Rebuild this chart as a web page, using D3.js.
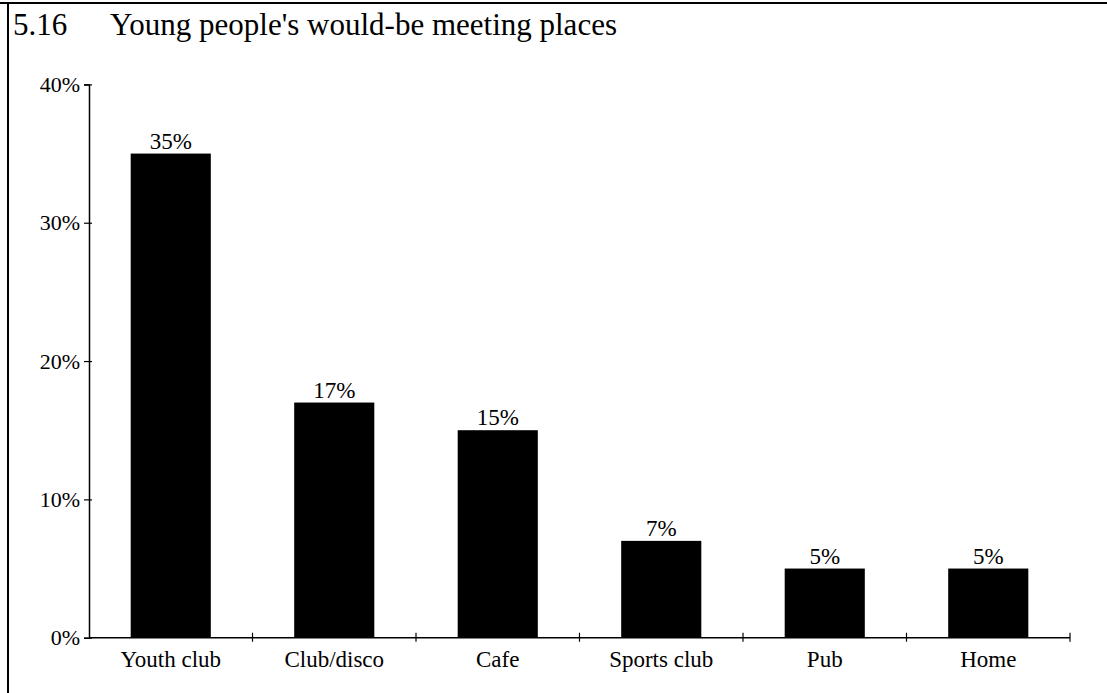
<!DOCTYPE html>
<html>
<head>
<meta charset="utf-8">
<script src="https://cdn.jsdelivr.net/npm/d3@7"></script>
<style>
  html, body { margin: 0; padding: 0; background: #fff; }
  svg { display: block; }
  svg text { font-family: "Liberation Serif", "Times New Roman", serif !important; fill: #000; }
</style>
</head>
<body>
<svg id="chart" width="1107" height="693"></svg>
<script>
// Survey results: where young people would like to meet
const categories = ["Youth club", "Club/disco", "Cafe", "Sports club", "Pub", "Home"];
const shares = [35, 17, 15, 7, 5, 5];
const yTicks = [0, 10, 20, 30, 40];
const figureNumber = "5.16";
const titleText = "Young people's would-be meeting places";

const SERIF = "'Liberation Serif', 'Times New Roman', serif";
const svg = d3.select("#chart").attr("font-family", SERIF);
const W = 1107, H = 693;

// Frame: top and left rules
svg.append("line").attr("x1", 0).attr("x2", W).attr("y1", 3).attr("y2", 3)
  .attr("stroke", "#000").attr("stroke-width", 2);
svg.append("line").attr("x1", 8).attr("x2", 8).attr("y1", 3).attr("y2", H)
  .attr("stroke", "#000").attr("stroke-width", 2);

// Title
svg.append("text").attr("x", 13).attr("y", 35).attr("font-size", 31)
  .attr("font-family", SERIF).text(figureNumber);
svg.append("text").attr("x", 110).attr("y", 35).attr("font-size", 31)
  .attr("font-family", SERIF).text(titleText);

const plotLeft = 89, plotRight = 1070, plotTop = 84.4, plotBottom = 637.7;

const x = d3.scaleBand()
  .domain(categories)
  .range([plotLeft, plotRight])
  .paddingInner(0.51)
  .paddingOuter(0.255);

const y = d3.scaleLinear().domain([0, 40]).range([plotBottom, plotTop]);

// Bars
svg.append("g").selectAll("rect")
  .data(categories)
  .join("rect")
  .attr("x", d => x(d))
  .attr("width", x.bandwidth())
  .attr("y", (d, i) => y(shares[i]))
  .attr("height", (d, i) => y(0) - y(shares[i]))
  .attr("fill", "#000");

// Value labels above bars
svg.append("g").selectAll("text")
  .data(categories)
  .join("text")
  .attr("x", d => x(d) + x.bandwidth() / 2)
  .attr("y", (d, i) => y(shares[i]) - 5)
  .attr("text-anchor", "middle")
  .attr("font-family", SERIF)
  .attr("font-size", 23)
  .text((d, i) => shares[i] + "%");

// Y axis
const yAxis = svg.append("g")
  .attr("transform", `translate(${plotLeft},0)`)
  .call(d3.axisLeft(y).tickValues(yTicks).tickSize(5).tickPadding(4).tickFormat(d => d + "%"));
yAxis.attr("font-family", SERIF).attr("font-size", 22);
yAxis.select(".domain").attr("stroke", "#000").attr("stroke-width", 1.5);
yAxis.selectAll(".tick line").attr("x1", 3).attr("stroke", "#000").attr("stroke-width", 1.2);
yAxis.selectAll(".tick text")
  .attr("font-family", SERIF)
  .attr("font-size", 22)
  .attr("fill", "#000");

// X axis baseline
svg.append("line")
  .attr("x1", plotLeft).attr("x2", plotRight)
  .attr("y1", y(0)).attr("y2", y(0))
  .attr("stroke", "#000").attr("stroke-width", 1.5);

// Category boundary ticks on the x axis
const boundaries = d3.range(1, categories.length + 1).map(i => plotLeft + i * x.step());
svg.append("g").selectAll("line")
  .data(boundaries)
  .join("line")
  .attr("x1", d => d).attr("x2", d => d)
  .attr("y1", y(0) - 5).attr("y2", y(0) + 4)
  .attr("stroke", "#000").attr("stroke-width", 1.2);

// Category labels
svg.append("g").selectAll("text")
  .data(categories)
  .join("text")
  .attr("x", d => x(d) + x.bandwidth() / 2)
  .attr("y", 667)
  .attr("text-anchor", "middle")
  .attr("font-family", SERIF)
  .attr("font-size", 23)
  .text(d => d);
</script>
</body>
</html>
